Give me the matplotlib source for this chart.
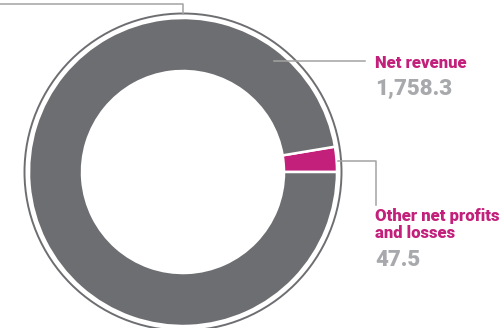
import matplotlib
matplotlib.use("Agg")
import matplotlib.pyplot as plt
from matplotlib.patches import Circle

# data (EUR m)
labels = ["Other net profits\nand losses", "Net revenue"]
values = [47.5, 1758.3]
value_text = ["47.5", "1,758.3"]
colors = ["#c2207a", "#6d6e71"]

PINK = "#c2207a"
NUM_GRAY = "#a7a9ac"
LINE_GRAY = "#a3a3a3"
FONT = ["Roboto", "DejaVu Sans"]

fig = plt.figure(figsize=(5.01, 3.28), dpi=100)
ax = fig.add_axes([0, 0, 1, 1])

cx, cy = 183, 172
r_out, r_in = 154, 101

ax.pie(values, colors=colors, startangle=0, counterclock=False,
       center=(cx, cy), radius=r_out,
       wedgeprops=dict(width=r_out - r_in, edgecolor="white", linewidth=1.8))

# thin outer ring
ax.add_patch(Circle((cx, cy), 158.5, fill=False, edgecolor="#6d6e71", linewidth=1.4))

# leader lines
ax.plot([0, 183, 183], [3.5, 3.5, 14], color=LINE_GRAY, lw=1.1)
ax.plot([274, 365], [61, 61], color=LINE_GRAY, lw=1.1)
ax.plot([338, 376, 376], [161, 161, 205], color=LINE_GRAY, lw=1.1)

# labels
ax.text(375, 68.5, "Net revenue", color=PINK, fontsize=12, fontweight="heavy",
        family=FONT, va="baseline", ha="left")
ax.text(375, 95, value_text[1], color=NUM_GRAY, fontsize=16, fontweight="heavy",
        family=FONT, va="baseline", ha="left")
ax.text(375, 221.5, "Other net profits", color=PINK, fontsize=12, fontweight="heavy",
        family=FONT, va="baseline", ha="left")
ax.text(375, 238.5, "and losses", color=PINK, fontsize=12, fontweight="heavy",
        family=FONT, va="baseline", ha="left")
ax.text(375, 266, value_text[0], color=NUM_GRAY, fontsize=16, fontweight="heavy",
        family=FONT, va="baseline", ha="left")

ax.set_xlim(0, 501)
ax.set_ylim(328, 0)
ax.set_aspect("auto")
ax.axis("off")

fig.savefig("out.png", dpi=100)
